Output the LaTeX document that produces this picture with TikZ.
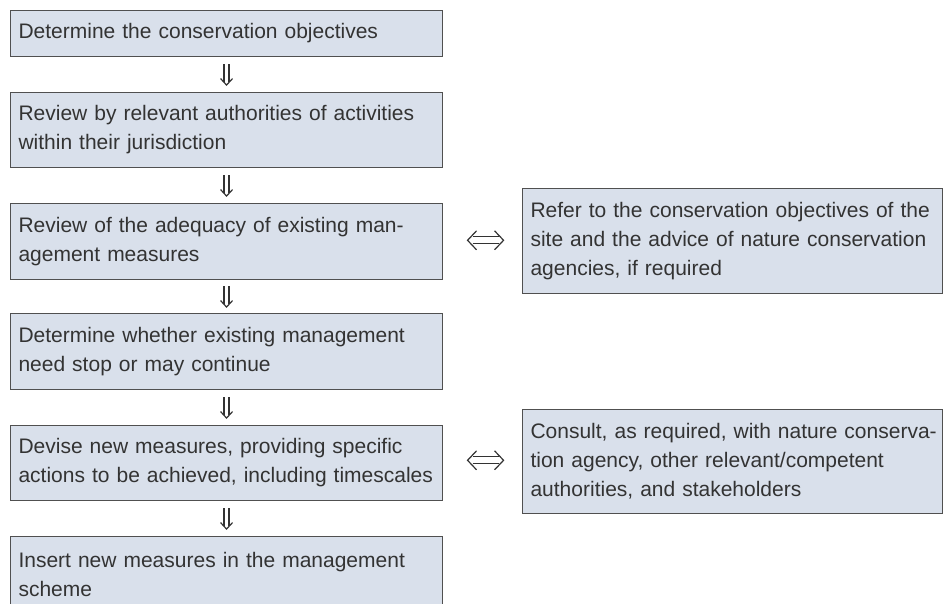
\documentclass[tikz,border=0pt]{standalone}
\usepackage{fontspec}
\setmainfont{Liberation Sans}
\usetikzlibrary{calc}
\definecolor{boxfill}{RGB}{217,224,235}
\definecolor{boxline}{RGB}{80,80,80}
\definecolor{txtcol}{RGB}{51,51,51}
\tikzset{
  flowbox/.style={draw=boxline, line width=1.1pt, fill=boxfill, text=txtcol,
    anchor=north west, align=left, inner xsep=8pt, inner ysep=0pt,
    font=\fontsize{21}{29}\selectfont},
  lbox/.style={flowbox, text width=416pt},
  rbox/.style={flowbox, text width=404pt},
  glyphline/.style={draw=txtcol, line width=1.2pt, line cap=butt, line join=miter},
  downarr/.pic={
    \draw[glyphline] (-2.5,-10.5) -- (-2.5,7.4);
    \draw[glyphline] (2.5,-10.5) -- (2.5,7.4);
    \draw[glyphline] (-6,4) -- (0,10.5) -- (6,4);
  },
  botharr/.pic={
    \draw[glyphline] (-13,-3.5) -- (13,-3.5);
    \draw[glyphline] (-13,3.5) -- (13,3.5);
    \draw[glyphline] (-9,-9.5) -- (-18,0) -- (-9,9.5);
    \draw[glyphline] (9,-9.5) -- (18,0) -- (9,9.5);
  },
}
\begin{document}
\begin{tikzpicture}[x=1pt,y=-1pt]
\useasboundingbox (0,0) rectangle (943,603);
\clip (0,0) rectangle (943,603);
\node[lbox, minimum height=46pt] (b1) at (10,10) {\mbox{Determine the conservation objectives}};
\node[lbox, minimum height=75pt] (b2) at (10,92) {\mbox{Review by relevant authorities of activities}\\\mbox{within their jurisdiction}};
\node[lbox, minimum height=76pt] (b3) at (10,203) {\mbox{Review of the adequacy of existing man-}\\\mbox{agement measures}};
\node[lbox, minimum height=76pt] (b4) at (10,313) {\mbox{Determine whether existing management}\\\mbox{need stop or may continue}};
\node[lbox, minimum height=75pt] (b5) at (10,425) {\mbox{Devise new measures, providing specific}\\\mbox{actions to be achieved, including timescales}};
\node[lbox, minimum height=75pt] (b6) at (10,536) {\mbox{Insert new measures in the management}\\\mbox{scheme}};
\node[rbox, minimum height=105pt] (r1) at (522,188) {\mbox{Refer to the conservation objectives of the}\\\mbox{site and the advice of nature conservation}\\\mbox{agencies, if required}};
\node[rbox, minimum height=104pt] (r2) at (522,409) {\mbox{Consult, as required, with nature conserva-}\\\mbox{tion agency, other relevant/competent}\\\mbox{authorities, and stakeholders}};
\pic (a1) at ($(b1.south)!0.5!(b2.north)$) {downarr};
\pic (a2) at ($(b2.south)!0.5!(b3.north)$) {downarr};
\pic (a3) at ($(b3.south)!0.5!(b4.north)$) {downarr};
\pic (a4) at ($(b4.south)!0.5!(b5.north)$) {downarr};
\pic (a5) at ($(b5.south)!0.5!(b6.north)$) {downarr};
\pic (h1) at ($(b3.east)!0.5!(r1.west)+(3,-1)$) {botharr};
\pic (h2) at ($(b5.east)!0.5!(r2.west)+(3,-2)$) {botharr};
\end{tikzpicture}
\end{document}
